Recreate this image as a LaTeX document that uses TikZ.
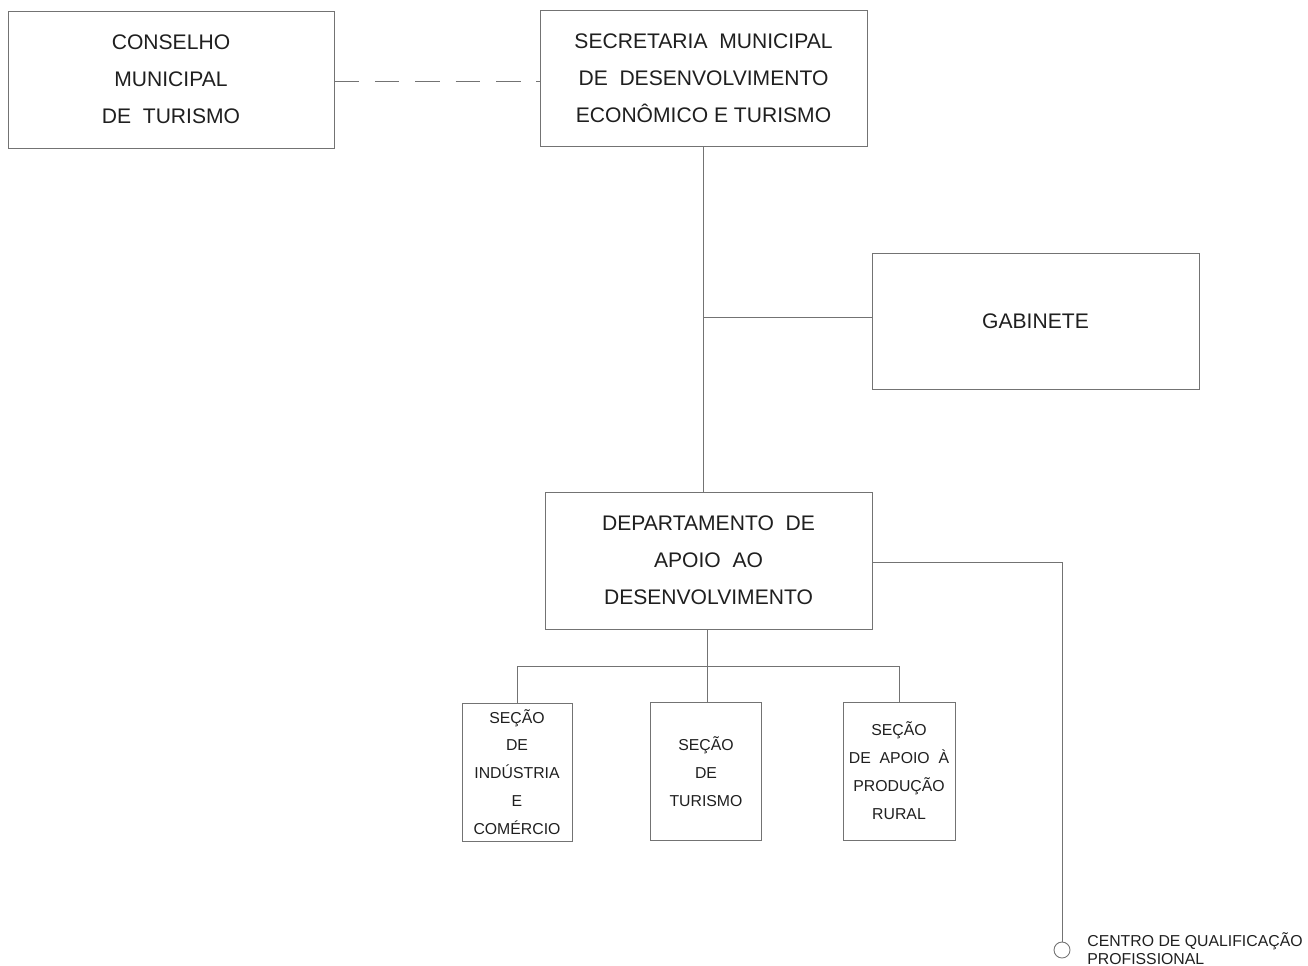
\documentclass[tikz,border=0pt]{standalone}
\usepackage{fontspec}
\setmainfont{Liberation Sans}
\usetikzlibrary{positioning}

\definecolor{linegray}{gray}{0.45}
\definecolor{inkgray}{gray}{0.12}

\tikzset{
    bigbox/.style={draw=linegray, line width=0.5pt, rectangle, align=center, text=inkgray,
        minimum width=6.54cm, minimum height=2.74cm, font=\fontsize{12}{21}\selectfont},
    smallbox/.style={draw=linegray, line width=0.5pt, rectangle, align=center, text=inkgray,
        minimum width=2.2cm, minimum height=2.75cm, font=\fontsize{9}{15.9}\selectfont},
    link/.style={draw=linegray, line width=0.5pt}
}

\begin{document}
\begin{tikzpicture}[x=0.02cm, y=-0.02cm]
        \useasboundingbox (0,0) rectangle (1308,966);

        \node[bigbox, minimum width=6.52cm] (conselho) at (171, 79.5) {CONSELHO\\MUNICIPAL\\DE\ \ TURISMO};
        \node[bigbox, minimum height=2.72cm] (secretaria) at (703.5, 78) {SECRETARIA\ \ MUNICIPAL\\DE\ \ DESENVOLVIMENTO\\ECONÔMICO E TURISMO};
        \node[bigbox, minimum height=2.72cm] (gabinete) at (1035.5, 321) {GABINETE};
        \node[bigbox] (depto) at (708.5, 560.5) {DEPARTAMENTO\ \ DE\\APOIO\ \ AO\\DESENVOLVIMENTO};

        \node[smallbox, minimum height=2.76cm] (secInd) at (517, 772) {SEÇÃO\\DE\\INDÚSTRIA\\E\\COMÉRCIO};
        \node[smallbox] (secTur) at (706, 771.5) {\raisebox{2pt}{\parbox{2cm}{\centering SEÇÃO\\DE\\TURISMO}}};
        \node[smallbox, minimum width=2.24cm, minimum height=2.76cm] (secRural) at (899, 771) {SEÇÃO\\DE\ \ APOIO\ \ À\\PRODUÇÃO\\RURAL};

        \node[draw=linegray, line width=0.5pt, circle, minimum size=0.32cm, inner sep=0pt] (centro) at (1062, 950) {};
        \node[anchor=west, align=left, text=inkgray, inner sep=0pt, font=\fontsize{9}{10.2}\selectfont] (centroLbl) at (1087, 949) {CENTRO DE QUALIFICAÇÃO\\PROFISSIONAL};

        \coordinate (bus) at (707, 666);
        \coordinate (dashrow) at (0, 81);
        \coordinate (gabrow) at (0, 317);

        % ligacoes
        \draw[link, dash pattern=on 14pt off 9pt] (conselho.east |- dashrow) -- (secretaria.west |- dashrow);
        \draw[link] (secretaria.south) -- (secretaria.south |- depto.north);
        \draw[link] (gabinete.west |- gabrow) -- (secretaria.south |- gabrow);
        \draw[link] (bus |- depto.south) -- (bus |- secTur.north);
        \draw[link] (secInd.north) -- (secInd.north |- bus) -- (secRural.north |- bus) -- (secRural.north);
        \draw[link] (depto.east) ++(0,1.5) -| (centro.north);
    \end{tikzpicture}
\end{document}
